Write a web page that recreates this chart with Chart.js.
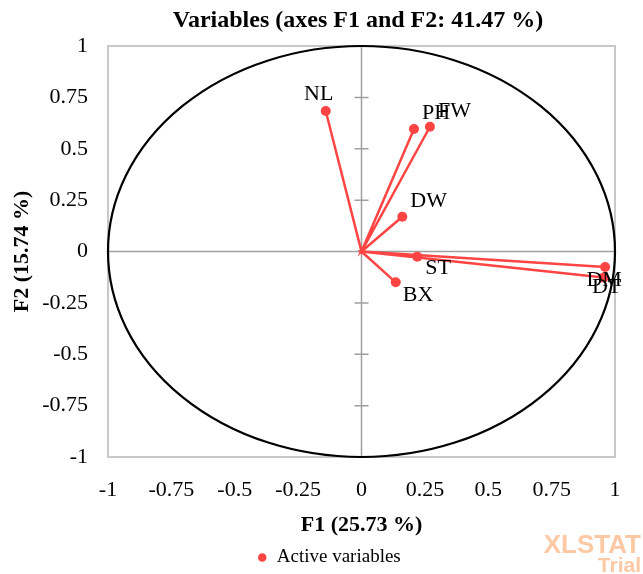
<!DOCTYPE html>
<html>
<head>
<meta charset="utf-8">
<title>Variables (axes F1 and F2: 41.47 %)</title>
<script src="https://cdn.jsdelivr.net/npm/chart.js@4/dist/chart.umd.min.js"></script>
<style>
    html, body { margin: 0; padding: 0; background: #fff; }
    #wrap { width: 643px; height: 574px; position: relative; }
</style>
</head>
<body>
<div id="wrap"><canvas id="circleChart"></canvas></div>
<script>
// variables and their coordinates on F1 / F2
const varNames = ['NL', 'PH', 'FW', 'DW', 'ST', 'BX', 'DM', 'DT'];
const f1Values = [-0.141, 0.207, 0.270, 0.161, 0.220, 0.135, 0.961, 0.955];
const f2Values = [0.684, 0.596, 0.607, 0.169, -0.025, -0.150, -0.075, -0.127];
const tickValues = [-1, -0.75, -0.5, -0.25, 0, 0.25, 0.5, 0.75, 1];
const tickLabels = ['-1', '-0.75', '-0.5', '-0.25', '0', '0.25', '0.5', '0.75', '1'];

const serif = "'Times New Roman', 'Liberation Serif', serif";
const red = 'rgb(255, 68, 68)';

// each vector goes origin -> point, one polyline for the whole set
const vectorData = [];
for (let i = 0; i < varNames.length; i++) {
    vectorData.push({ x: 0, y: 0 });
    vectorData.push({ x: f1Values[i], y: f2Values[i] });
}

function tickLabel(value) {
    const idx = tickValues.findIndex(v => Math.abs(v - value) < 1e-9);
    return idx >= 0 ? tickLabels[idx] : '';
}

// where each name sits relative to its point: [dx, dy, align]
const labelPlace = {
    NL: [-7, -17, 'center'],
    ST: [8, 12, 'left'],
    BX: [7, 13, 'left'],
    DM: [-1, 13, 'center'],
    DT: [3, 10, 'center']
};

const framePlugin = {
    id: 'circleFrame',
    beforeDatasetsDraw(chart) {
        const { ctx, chartArea: a } = chart;
        const xs = chart.scales.x, ys = chart.scales.y;
        const x0 = xs.getPixelForValue(0), y0 = ys.getPixelForValue(0);
        ctx.save();
        // outer box
        ctx.strokeStyle = '#c8c8c8';
        ctx.lineWidth = 2;
        ctx.strokeRect(a.left, a.top, a.right - a.left, a.bottom - a.top);
        // zero axes, ticks only on the vertical one
        ctx.strokeStyle = '#a0a0a0';
        ctx.lineWidth = 1.5;
        ctx.beginPath();
        ctx.moveTo(a.left, y0); ctx.lineTo(a.right, y0);
        ctx.moveTo(x0, a.top); ctx.lineTo(x0, a.bottom);
        tickValues.forEach(v => {
            if (v === 0) return;
            const py = ys.getPixelForValue(v);
            ctx.moveTo(x0 - 7, py); ctx.lineTo(x0 + 7, py);
        });
        ctx.stroke();
        // unit circle
        const rx = xs.getPixelForValue(1) - x0;
        const ry = y0 - ys.getPixelForValue(1);
        ctx.strokeStyle = '#000';
        ctx.lineWidth = 2.2;
        ctx.beginPath();
        ctx.ellipse(x0, y0, rx, ry, 0, 0, Math.PI * 2);
        ctx.stroke();
        ctx.restore();
    },
    afterDatasetsDraw(chart) {
        const { ctx } = chart;
        const xs = chart.scales.x, ys = chart.scales.y;
        ctx.save();
        ctx.font = '22px ' + serif;
        ctx.fillStyle = '#000';
        ctx.textBaseline = 'middle';
        varNames.forEach((name, i) => {
            const place = labelPlace[name] || [8, -16, 'left'];
            ctx.textAlign = place[2];
            ctx.fillText(name, xs.getPixelForValue(f1Values[i]) + place[0], ys.getPixelForValue(f2Values[i]) + place[1]);
        });
        ctx.restore();
    },
    afterDraw(chart) {
        const { ctx } = chart;
        ctx.save();
        // chart title
        ctx.font = 'bold 24px ' + serif;
        ctx.fillStyle = '#000';
        ctx.textAlign = 'center';
        ctx.textBaseline = 'middle';
        ctx.fillText('Variables (axes F1 and F2: 41.47 %)', 358, 21);
        // trial watermark
        ctx.fillStyle = '#fdc9a4';
        ctx.textAlign = 'right';
        ctx.textBaseline = 'alphabetic';
        ctx.font = "bold 26px 'Liberation Sans', Arial, sans-serif";
        ctx.fillText('XLSTAT', 641, 553);
        ctx.font = "bold 21px 'Liberation Sans', Arial, sans-serif";
        ctx.fillText('Trial', 641, 572);
        ctx.restore();
    }
};

const axisCommon = {
    type: 'linear',
    min: -1,
    max: 1,
    grid: { display: false },
    border: { display: false },
    ticks: {
        stepSize: 0.25,
        autoSkip: false,
        maxRotation: 0,
        color: '#000',
        padding: 12,
        font: { family: serif, size: 22 },
        callback: tickLabel
    }
};

const circleChart = new Chart(document.getElementById('circleChart'), {
    type: 'line',
    data: {
        datasets: [{
            label: 'Active variables',
            data: vectorData,
            borderColor: red,
            backgroundColor: red,
            borderWidth: 2.5,
            tension: 0,
            pointStyle: 'circle',
            pointRadius: ctx => (ctx.dataIndex % 2 ? 5 : 0),
            pointHoverRadius: ctx => (ctx.dataIndex % 2 ? 5 : 0),
            pointBorderWidth: 0
        }]
    },
    options: {
        responsive: true,
        maintainAspectRatio: false,
        animation: false,
        layout: { padding: { top: 46, left: 43, right: 28, bottom: -3 } },
        plugins: {
            legend: {
                position: 'bottom',
                labels: {
                    usePointStyle: true,
                    boxHeight: 6,
                    boxWidth: 10,
                    padding: 9,
                    color: '#000',
                    font: { family: serif, size: 19 }
                }
            },
            title: { display: false },
            tooltip: { enabled: false }
        },
        scales: {
            x: Object.assign({}, axisCommon, {
                position: 'bottom',
                afterFit(scale) { scale.height = 82; },
                title: {
                    display: true,
                    text: 'F1 (25.73 %)',
                    color: '#000',
                    font: { family: serif, size: 22, weight: 'bold' },
                    padding: { top: 5, bottom: 0 }
                }
            }),
            y: Object.assign({}, axisCommon, {
                position: 'left',
                afterFit(scale) { scale.width = 65; },
                title: {
                    display: true,
                    text: 'F2 (15.74 %)',
                    color: '#000',
                    font: { family: serif, size: 22, weight: 'bold' },
                    padding: { top: -34, bottom: 0 }
                }
            })
        }
    },
    plugins: [framePlugin]
});
</script>
</body>
</html>
